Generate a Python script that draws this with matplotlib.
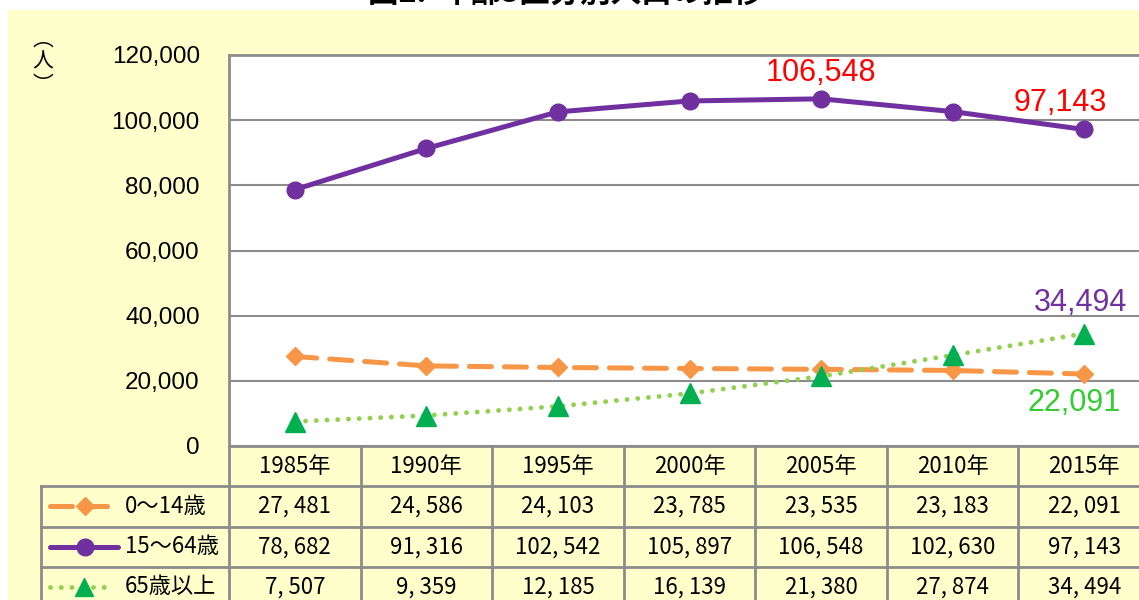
import matplotlib.pyplot as plt
from matplotlib.patches import Rectangle

plt.rcParams['font.family'] = ['Liberation Sans', 'Noto Sans CJK JP', 'DejaVu Sans']

years = [1985, 1990, 1995, 2000, 2005, 2010, 2015]
age_0_14 = [27481, 24586, 24103, 23785, 23535, 23183, 22091]
age_15_64 = [78682, 91316, 102542, 105897, 106548, 102630, 97143]
age_65_up = [7507, 9359, 12185, 16139, 21380, 27874, 34494]
series_names = ['0～14歳', '15～64歳', '65歳以上']

orange = '#F79646'
purple = '#7030A0'
green_line = '#92D050'
green_mark = '#00B050'
grid_gray = '#8C8C8C'
jp = ['Noto Sans CJK JP', 'DejaVu Sans']

W, H = 1139, 600
fig = plt.figure(figsize=(W / 100, H / 100), dpi=100, facecolor='white')

# yellow panel
fig.patches.append(Rectangle((8 / W, 0), 1, 1 - 10 / H, transform=fig.transFigure,
                             facecolor='#FFFFCC', edgecolor='none', zorder=-5))

fig.text(566 / W, 1 - 9 / H, '図2.  年齢3区分別人口の推移', ha='center', va='bottom',
         fontsize=22, fontweight='bold', family=jp)

# main plot
left, right = 229, 1150
top, bottom = 55, 446
ax = fig.add_axes([left / W, 1 - bottom / H, (right - left) / W, (bottom - top) / H])
ax.set_facecolor('white')
x = list(range(len(years)))

ax.plot(x, age_0_14, color=orange, lw=3.6, dashes=(4.4, 2.6), dash_capstyle='round',
        marker='D', ms=9, mfc=orange, mec=orange, zorder=3)
ax.plot(x, age_15_64, color=purple, lw=3.6, marker='o', ms=12, mfc=purple, mec=purple,
        zorder=3, solid_capstyle='round')
ax.plot(x, age_65_up, color=green_line, lw=3.5, linestyle=(0, (0.01, 2.2)),
        dash_capstyle='round', zorder=3)
ax.plot(x, age_65_up, linestyle='none', marker='^', ms=14, mfc=green_mark, mec=green_mark,
        zorder=4)

ax.set_xlim(-0.5, 6.5)
ax.set_ylim(0, 120000)
ax.set_yticks(range(0, 120001, 20000))
ax.set_yticklabels([f'{v:,}' for v in range(0, 120001, 20000)], fontsize=17.5)
ax.tick_params(axis='y', length=0, pad=21)
ax.set_xticks([])
ax.grid(axis='y', color=grid_gray, lw=1.5)
ax.set_axisbelow(True)
for s in ['right', 'bottom']:
    ax.spines[s].set_visible(False)
for s in ['left', 'top']:
    ax.spines[s].set_color(grid_gray)
    ax.spines[s].set_linewidth(2)

# data labels
i_max = age_15_64.index(max(age_15_64))
ax.annotate(f'{age_15_64[i_max]:,}', (i_max, age_15_64[i_max]), xytext=(0, 8),
            textcoords='offset points', ha='center', va='bottom', color='red', fontsize=22)
ax.annotate(f'{age_15_64[-1]:,}', (6, age_15_64[-1]), xytext=(-17, 8),
            textcoords='offset points', ha='center', va='bottom', color='red', fontsize=22)
ax.annotate(f'{age_65_up[-1]:,}', (6, age_65_up[-1]), xytext=(-3, 11),
            textcoords='offset points', ha='center', va='bottom', color=purple, fontsize=22)
ax.annotate(f'{age_0_14[-1]:,}', (6, age_0_14[-1]), xytext=(-7, -10),
            textcoords='offset points', ha='center', va='top', color='#33CC33', fontsize=22)

fig.text(43 / W, 1 - 62 / H, '︵\n人\n︶', ha='center', va='center', fontsize=15,
         family=jp, linespacing=1.05)

# data table under the plot
col_px = (right - left) / 7
tleft = 41
tax = fig.add_axes([tleft / W, 1 - 607 / H, (right - tleft) / W, (607 - bottom) / H])
lx = -0.5 - (left - tleft) / col_px
tax.set_xlim(lx, 6.5)
tax.set_ylim(4, 0)
tax.axis('off')
tax.patch.set_alpha(0)

lkw = dict(color=grid_gray, lw=2, clip_on=False)
tax.plot([-0.5, 6.5], [0, 0], **lkw)
for r in [1, 2, 3]:
    tax.plot([lx, 6.5], [r, r], **lkw)
tax.plot([lx, lx], [1, 4], **lkw)
for c in range(7):
    tax.plot([c - 0.5, c - 0.5], [0, 4], **lkw)

for c, yr in enumerate(years):
    tax.text(c, 0.5, f'{yr}年', ha='center', va='center', fontsize=16, family=jp)
for r, vals in enumerate([age_0_14, age_15_64, age_65_up], start=1):
    for c, v in enumerate(vals):
        tax.text(c, r + 0.5, f'{v:,}'.replace(',', ', '), ha='center', va='center',
                 fontsize=16, family=jp)


def px(p):
    return -0.5 + (p - left) / col_px


# legend samples
tax.plot([px(50), px(108)], [1.5, 1.5], color=orange, lw=3.6, dashes=(4.4, 2.6),
         dash_capstyle='round', clip_on=False)
tax.plot([px(85)], [1.5], marker='D', ms=9, color=orange, clip_on=False)
tax.plot([px(50), px(118)], [2.5, 2.5], color=purple, lw=3.6, solid_capstyle='round',
         clip_on=False)
tax.plot([px(85)], [2.5], marker='o', ms=12, color=purple, clip_on=False)
tax.plot([px(50), px(110)], [3.5, 3.5], color=green_line, lw=3.5,
         linestyle=(0, (0.01, 2.2)), dash_capstyle='round', clip_on=False)
tax.plot([px(84)], [3.5], marker='^', ms=13, color=green_mark, clip_on=False)
for r, name in enumerate(series_names, start=1):
    tax.text(px(125), r + 0.5, name, ha='left', va='center', fontsize=16, family=jp)

fig.savefig('out.png', dpi=100)
